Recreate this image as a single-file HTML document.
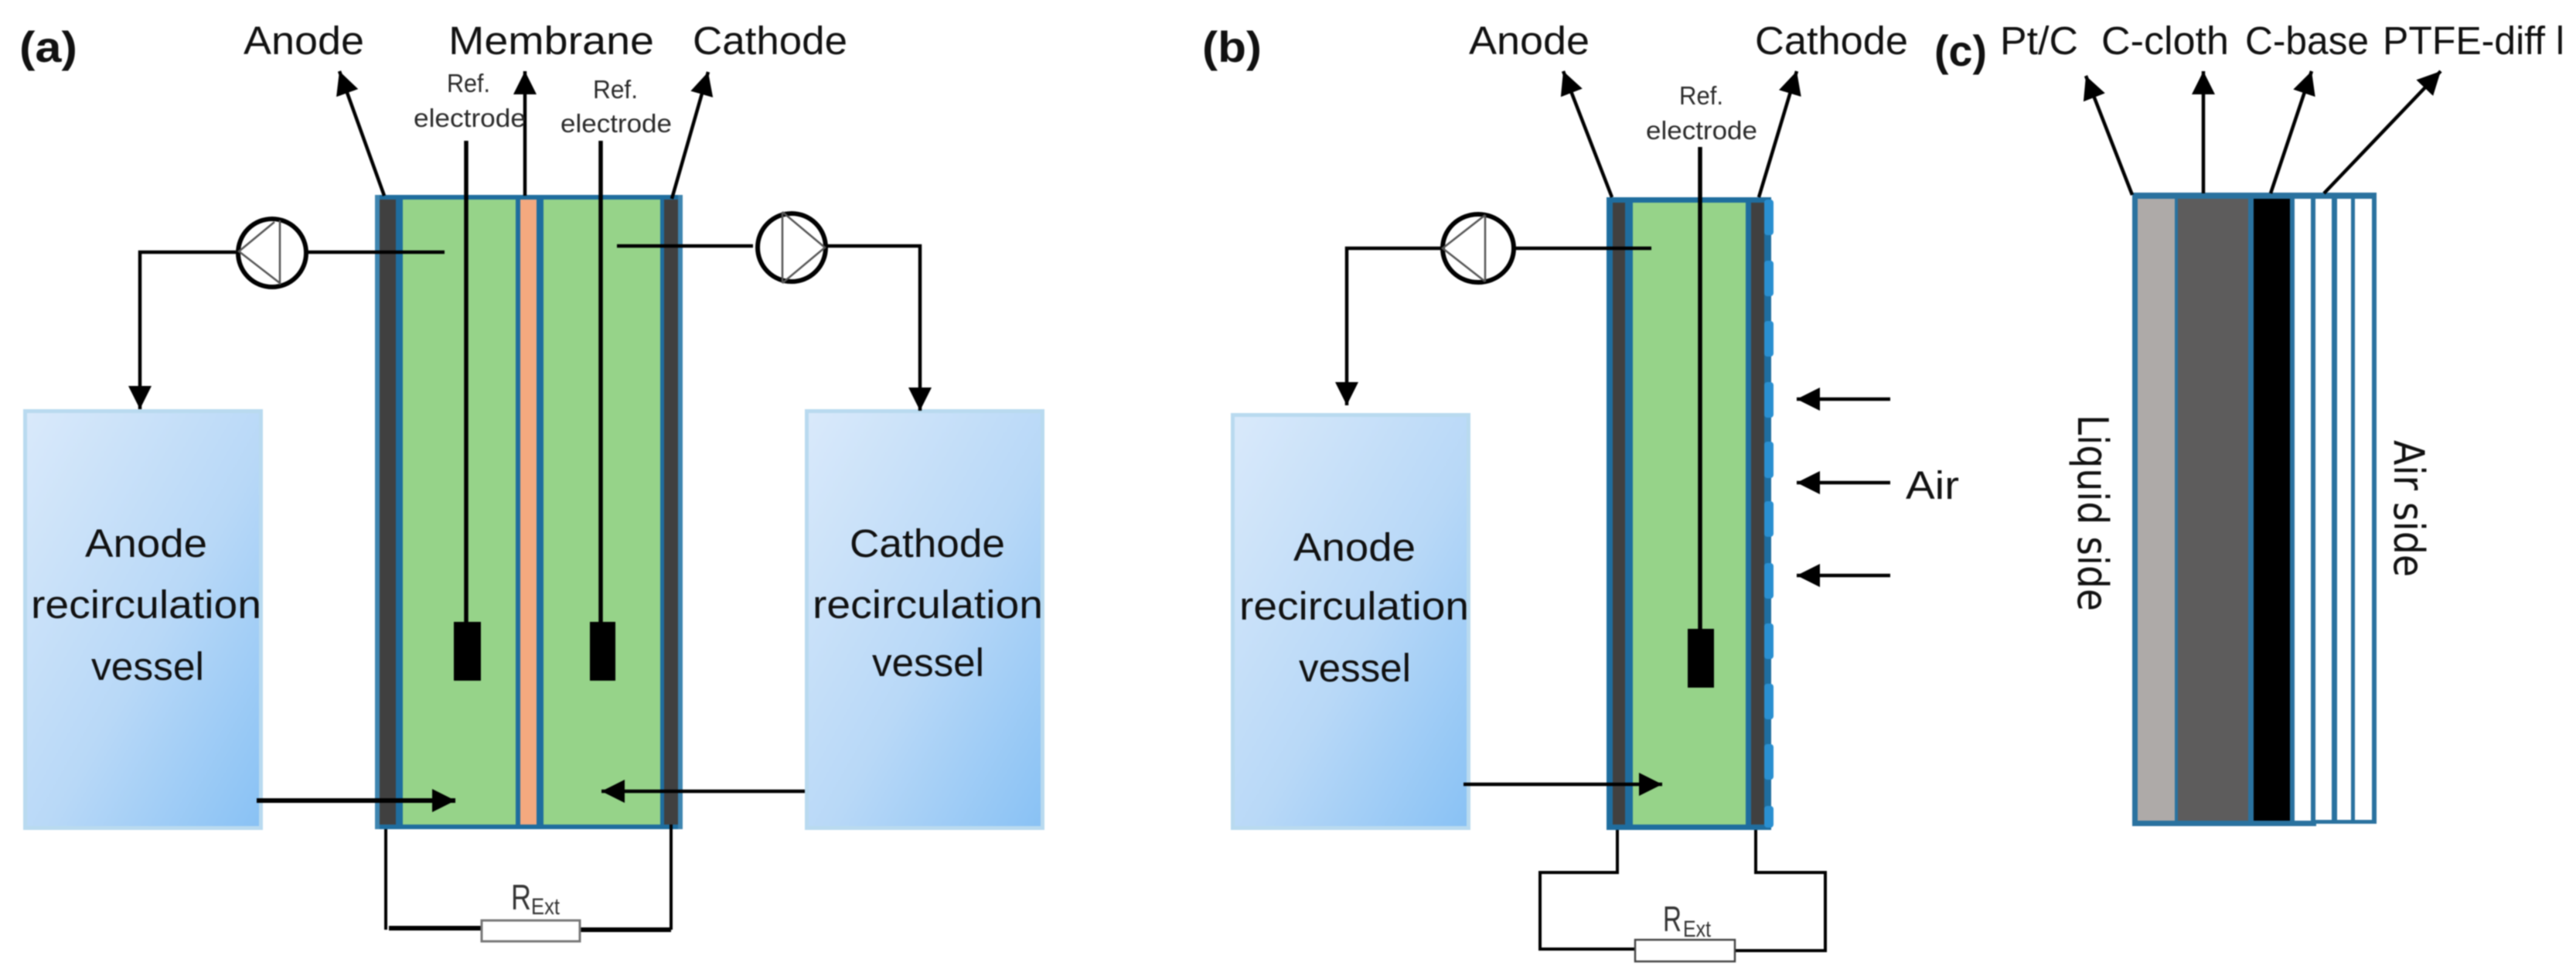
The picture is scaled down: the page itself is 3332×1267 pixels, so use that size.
<!DOCTYPE html>
<html><head><meta charset="utf-8"><style>
html,body{margin:0;padding:0;background:#fff;width:3332px;height:1267px;overflow:hidden}
svg{display:block;filter:blur(0.9px)}
text{font-family:"Liberation Sans",sans-serif;fill:#111}
.t{font-size:51px}.r{font-size:33px;fill:#2a2a2a}.b{font-weight:bold;font-size:56px}
.d{font-family:"DejaVu Sans",sans-serif;font-size:54px}
</style></head><body>
<svg width="3332" height="1267" viewBox="0 0 3332 1267" xmlns="http://www.w3.org/2000/svg">
<defs>
<marker id="h" markerUnits="userSpaceOnUse" markerWidth="32" markerHeight="32" refX="30" refY="15" orient="auto"><path d="M0,0L30,15L0,30z" fill="#000"/></marker>
<linearGradient id="g" x1="0" y1="0" x2="1" y2="1"><stop offset="0" stop-color="#d9e9fa"/><stop offset=".55" stop-color="#b8d8f7"/><stop offset="1" stop-color="#88c1f4"/></linearGradient>
</defs>
<rect width="3332" height="1267" fill="#fff"/>

<!-- vessels -->
<g stroke="#b9daef" stroke-width="5" fill="url(#g)">
<rect x="32.500" y="531.500" width="305" height="539"/>
<rect x="1043.500" y="531.500" width="305" height="539"/>
<rect x="1594.500" y="536.500" width="305" height="534"/>
</g>

<!-- Cell a -->
<rect x="485" y="252" width="398" height="820" fill="#1f6d9e"/>
<rect x="485" y="252" width="6" height="820" fill="#3f85b0"/>
<rect x="877" y="252" width="6" height="820" fill="#3f85b0"/>
<rect x="491" y="258" width="21" height="808" fill="#404040"/>
<rect x="521" y="258" width="146" height="808" fill="#96d389"/>
<rect x="673" y="258" width="21" height="808" fill="#f4a97f"/>
<rect x="703" y="258" width="151" height="808" fill="#96d389"/>
<rect x="859" y="258" width="18" height="808" fill="#404040"/>

<!-- Cell b -->
<rect x="2078" y="255" width="213" height="818" fill="#1f6d9e"/>
<rect x="2086" y="262" width="16" height="804" fill="#404040"/>
<rect x="2112" y="262" width="146" height="804" fill="#96d389"/>
<rect x="2265" y="262" width="17" height="804" fill="#404040"/>
<g fill="#2a8fd0">
<rect x="2282" y="258" width="12" height="46" rx="4"/><rect x="2282" y="337" width="12" height="46" rx="4"/>
<rect x="2282" y="415" width="12" height="46" rx="4"/><rect x="2282" y="494" width="12" height="46" rx="4"/>
<rect x="2282" y="571" width="12" height="47" rx="4"/><rect x="2282" y="648" width="12" height="46" rx="4"/>
<rect x="2282" y="728" width="12" height="46" rx="4"/><rect x="2282" y="806" width="12" height="46" rx="4"/>
<rect x="2282" y="884" width="12" height="46" rx="4"/><rect x="2282" y="962" width="12" height="46" rx="4"/>
<rect x="2282" y="1042" width="12" height="28" rx="4"/>
</g>

<!-- Stack c -->
<rect x="2758" y="249" width="238" height="819" fill="#2a729f"/>
<rect x="2996" y="249" width="78" height="816" fill="#2a729f"/>
<rect x="2765" y="257" width="48" height="804" fill="#aeaaa8"/>
<rect x="2817" y="257" width="91" height="804" fill="#5d5c5c"/>
<rect x="2915" y="257" width="47" height="804" fill="#000"/>
<rect x="2968" y="257" width="21" height="804" fill="#fff"/>
<rect x="2995" y="257" width="21" height="803" fill="#fff"/>
<rect x="3023" y="257" width="18" height="803" fill="#fff"/>
<rect x="3046" y="257" width="22" height="803" fill="#fff"/>

<!-- Electrodes -->
<g stroke="#000" stroke-width="5.500" fill="none">
<path d="M603,182V804"/><path d="M777,182V804"/><path d="M2199,190V813"/>
</g>
<rect x="587" y="804" width="35" height="76" fill="#000"/>
<rect x="763" y="804" width="33" height="76" fill="#000"/>
<rect x="2183" y="813" width="34" height="76" fill="#000"/>

<!-- Output arrows -->
<g stroke="#000" stroke-width="4.500" fill="none">
<path d="M497,253L439,92" marker-end="url(#h)"/>
<path d="M679,253V92" marker-end="url(#h)"/>
<path d="M869,257L916,93" marker-end="url(#h)"/>
<path d="M2085,255L2022,92" marker-end="url(#h)"/>
<path d="M2275,255L2324,92" marker-end="url(#h)"/>
<path d="M2758,252L2698,98" marker-end="url(#h)"/>
<path d="M2850,250V92" marker-end="url(#h)"/>
<path d="M2937,250L2990,92" marker-end="url(#h)"/>
<path d="M3006,250L3157,92" marker-end="url(#h)"/>
</g>

<!-- Flow lines -->
<g stroke="#000" stroke-width="4.500" fill="none">
<path d="M575,326H398"/><path d="M305,326H181V529" marker-end="url(#h)"/>
<path d="M798,318H974"/><path d="M1070,318H1190V531" marker-end="url(#h)"/>
<path d="M2136,321H1960"/><path d="M1866,321H1742V524" marker-end="url(#h)"/>
<path d="M332,1035H589" stroke-width="6" marker-end="url(#h)"/>
<path d="M1041,1023H778" marker-end="url(#h)"/>
<path d="M1893,1014H2150" marker-end="url(#h)"/>
<path d="M2445,516H2324" marker-end="url(#h)"/>
<path d="M2445,624H2324" marker-end="url(#h)"/>
<path d="M2445,744H2324" marker-end="url(#h)"/>
</g>

<!-- Pumps -->
<g fill="#fff" stroke="#000" stroke-width="6">
<circle cx="352" cy="327" r="44"/><circle cx="1024" cy="320" r="44"/><ellipse cx="1912" cy="321" rx="46" ry="44"/>
</g>
<g fill="none" stroke="#555" stroke-width="2.500">
<path d="M362,285V368M355,287L309,325L362,366"/>
<path d="M1012,274V366M1012,274L1067,320L1012,366"/>
<path d="M1921,278V364M1921,278L1866,321L1921,364"/>
</g>

<!-- Circuits -->
<g fill="none" stroke="#000" stroke-width="4">
<path d="M499,1072V1202M868,1066V1202"/>
<path d="M503,1200H622" stroke-width="6"/><path d="M750,1202H868" stroke-width="6"/>
<path d="M2092,1073V1128H1992V1227H2115"/>
<path d="M2244,1229H2361V1128H2271V1073"/>
</g>
<rect x="623" y="1190" width="127" height="27" fill="#fff" stroke="#777" stroke-width="3"/>
<rect x="2115" y="1215" width="129" height="28" fill="#fff" stroke="#444" stroke-width="2.500"/>

<!-- Labels panel a -->
<text class="b" x="25" y="80" textLength="75" lengthAdjust="spacingAndGlyphs">(a)</text>
<text class="t" x="315" y="70" textLength="156" lengthAdjust="spacingAndGlyphs">Anode</text>
<text class="t" x="580" y="70" textLength="266" lengthAdjust="spacingAndGlyphs">Membrane</text>
<text class="t" x="896" y="70" textLength="200" lengthAdjust="spacingAndGlyphs">Cathode</text>
<text class="r" x="578" y="119" textLength="56" lengthAdjust="spacingAndGlyphs">Ref.</text>
<text class="r" x="535" y="164" textLength="145" lengthAdjust="spacingAndGlyphs">electrode</text>
<text class="r" x="767" y="127" textLength="58" lengthAdjust="spacingAndGlyphs">Ref.</text>
<text class="r" x="725" y="171" textLength="144" lengthAdjust="spacingAndGlyphs">electrode</text>
<text class="t" x="110" y="720" textLength="158" lengthAdjust="spacingAndGlyphs">Anode</text>
<text class="t" x="40" y="799" textLength="298" lengthAdjust="spacingAndGlyphs">recirculation</text>
<text class="t" x="118" y="879" textLength="146" lengthAdjust="spacingAndGlyphs">vessel</text>
<text class="t" x="1099" y="720" textLength="201" lengthAdjust="spacingAndGlyphs">Cathode</text>
<text class="t" x="1051" y="799" textLength="298" lengthAdjust="spacingAndGlyphs">recirculation</text>
<text class="t" x="1128" y="874" textLength="145" lengthAdjust="spacingAndGlyphs">vessel</text>
<text x="661" y="1176" font-size="46" style="fill:#333" textLength="26" lengthAdjust="spacingAndGlyphs">R</text>
<text x="687" y="1182" font-size="30" style="fill:#333" textLength="37" lengthAdjust="spacingAndGlyphs">Ext</text>

<!-- Labels panel b -->
<text class="b" x="1555" y="80" textLength="77" lengthAdjust="spacingAndGlyphs">(b)</text>
<text class="t" x="1900" y="70" textLength="156" lengthAdjust="spacingAndGlyphs">Anode</text>
<text class="t" x="2270" y="70" textLength="198" lengthAdjust="spacingAndGlyphs">Cathode</text>
<text class="r" x="2172" y="135" textLength="57" lengthAdjust="spacingAndGlyphs">Ref.</text>
<text class="r" x="2129" y="180" textLength="144" lengthAdjust="spacingAndGlyphs">electrode</text>
<text class="t" x="1673" y="725" textLength="158" lengthAdjust="spacingAndGlyphs">Anode</text>
<text class="t" x="1603" y="801" textLength="297" lengthAdjust="spacingAndGlyphs">recirculation</text>
<text class="t" x="1680" y="881" textLength="145" lengthAdjust="spacingAndGlyphs">vessel</text>
<text x="2151" y="1204" font-size="46" style="fill:#333" textLength="24" lengthAdjust="spacingAndGlyphs">R</text>
<text x="2177" y="1211" font-size="30" style="fill:#333" textLength="36" lengthAdjust="spacingAndGlyphs">Ext</text>
<text class="t" x="2465" y="645" textLength="69" lengthAdjust="spacingAndGlyphs">Air</text>

<!-- Labels panel c -->
<text class="b" x="2502" y="85" textLength="68" lengthAdjust="spacingAndGlyphs">(c)</text>
<text class="t" x="2587" y="70" textLength="101" lengthAdjust="spacingAndGlyphs">Pt/C</text>
<text class="t" x="2718" y="70" textLength="165" lengthAdjust="spacingAndGlyphs">C-cloth</text>
<text class="t" x="2904" y="70" textLength="160" lengthAdjust="spacingAndGlyphs">C-base</text>
<text class="t" x="3082" y="70" textLength="235" lengthAdjust="spacingAndGlyphs">PTFE-diff l</text>
<text class="d" transform="translate(2688,536) rotate(90)" textLength="254" lengthAdjust="spacingAndGlyphs">Liquid side</text>
<text class="d" transform="translate(3097,569) rotate(90)" textLength="177" lengthAdjust="spacingAndGlyphs">Air side</text>
</svg>
</body></html>
